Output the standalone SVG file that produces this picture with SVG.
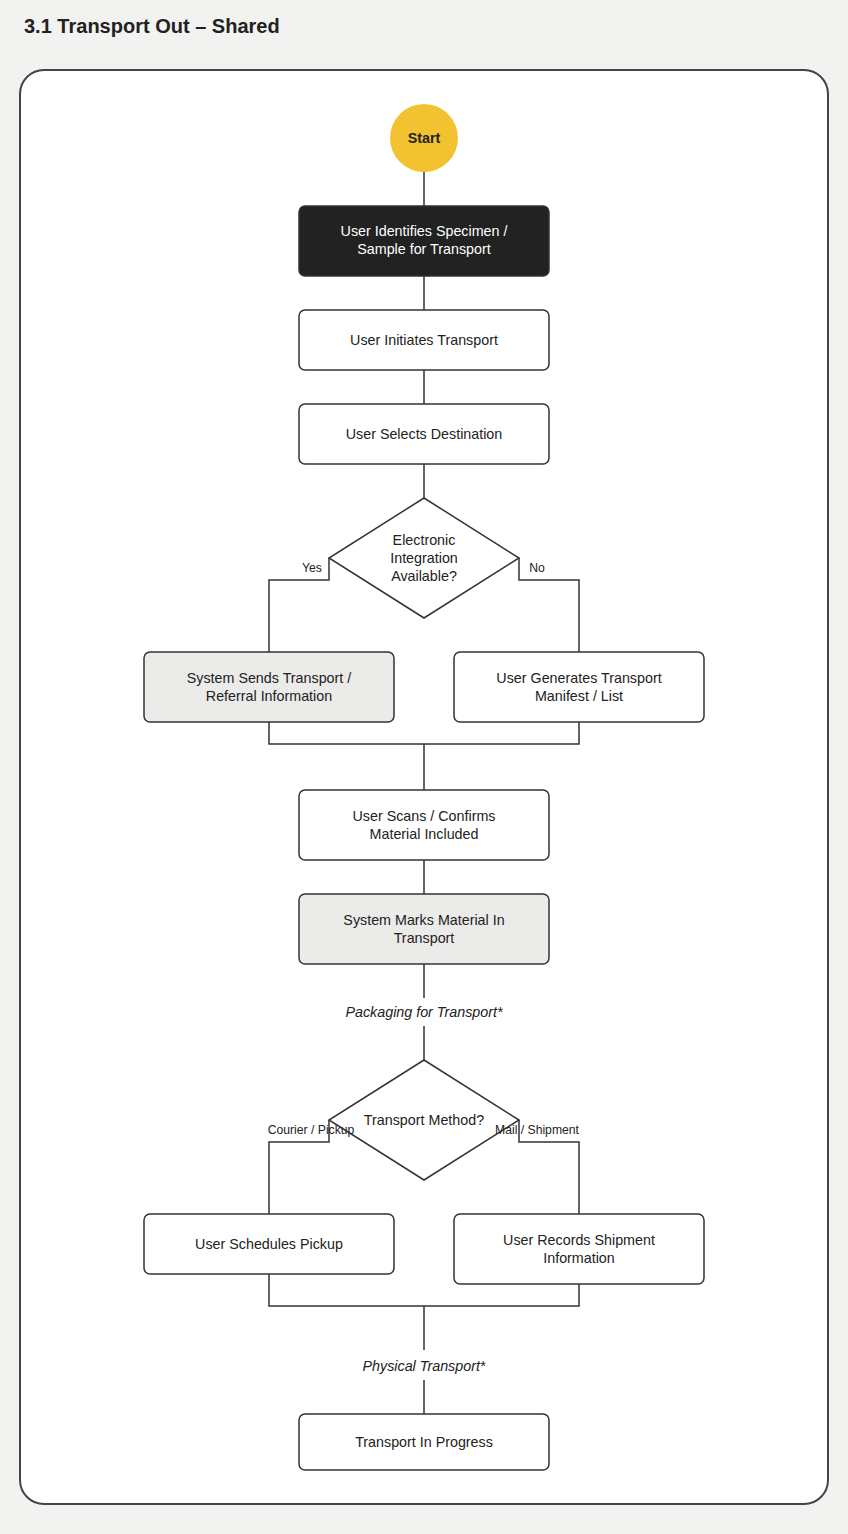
<svg xmlns="http://www.w3.org/2000/svg" width="848" height="1534" viewBox="0 0 848 1534">
<style>
text{font-family:"Liberation Sans",Arial,sans-serif;fill:#222}
.t{font-size:14.3px;text-anchor:middle;dominant-baseline:central}
.w{fill:#fff}
.lb{font-size:12.2px;text-anchor:middle;dominant-baseline:central}
.it{font-size:14.3px;font-style:italic;text-anchor:middle;dominant-baseline:central}
.box{fill:#fff;stroke:#333;stroke-width:1.5}
.grey{fill:#ebebea}
.dark{fill:#222}
.c{fill:none;stroke:#333;stroke-width:1.5}
</style>
<rect width="848" height="1534" fill="#f2f2f0"/>
<text x="24" y="26" style="font-size:20px;font-weight:bold;dominant-baseline:central">3.1 Transport Out – Shared</text>
<rect x="20" y="70" width="808" height="1434" rx="24" fill="#fff" stroke="#444" stroke-width="2"/>
<g id="connectors">
<path class="c" d="M424 172V206M424 276V310M424 370V404M424 464V498"/>
<path class="c" d="M329 558V580H269V652M519 558V580H579V652"/>
<path class="c" d="M269 722V744H579V722M424 744V790M424 860V894M424 964V998M424 1026V1060"/>
<path class="c" d="M329 1120V1142H269V1214M519 1120V1142H579V1214"/>
<path class="c" d="M269 1274V1306H579V1284M424 1306V1350M424 1380V1414"/>
</g>
<g id="start"><circle cx="424" cy="138" r="34" fill="#f2c230"/><text class="t" x="424" y="138" style="font-weight:bold">Start</text></g>
<g id="n1"><rect class="box dark" x="299" y="206" width="250" height="70" rx="6"/><text class="t w" x="424" y="231">User Identifies Specimen /</text><text class="t w" x="424" y="249">Sample for Transport</text></g>
<g id="n2"><rect class="box" x="299" y="310" width="250" height="60" rx="6"/><text class="t" x="424" y="340">User Initiates Transport</text></g>
<g id="n3"><rect class="box" x="299" y="404" width="250" height="60" rx="6"/><text class="t" x="424" y="434">User Selects Destination</text></g>
<g id="d1"><polygon class="box" points="424,498 519,558 424,618 329,558"/><text class="t" x="424" y="540">Electronic</text><text class="t" x="424" y="558">Integration</text><text class="t" x="424" y="576">Available?</text></g>
<g id="l1"><text class="lb" x="312" y="568">Yes</text><text class="lb" x="537" y="568">No</text></g>
<g id="n4"><rect class="box grey" x="144" y="652" width="250" height="70" rx="6"/><text class="t" x="269" y="678">System Sends Transport /</text><text class="t" x="269" y="696">Referral Information</text></g>
<g id="n5"><rect class="box" x="454" y="652" width="250" height="70" rx="6"/><text class="t" x="579" y="678">User Generates Transport</text><text class="t" x="579" y="696">Manifest / List</text></g>
<g id="n6"><rect class="box" x="299" y="790" width="250" height="70" rx="6"/><text class="t" x="424" y="816">User Scans / Confirms</text><text class="t" x="424" y="834">Material Included</text></g>
<g id="n7"><rect class="box grey" x="299" y="894" width="250" height="70" rx="6"/><text class="t" x="424" y="920">System Marks Material In</text><text class="t" x="424" y="938">Transport</text></g>
<g id="p1"><text class="it" x="424" y="1012">Packaging for Transport*</text></g>
<g id="d2"><polygon class="box" points="424,1060 519,1120 424,1180 329,1120"/><text class="t" x="424" y="1120">Transport Method?</text></g>
<g id="l2"><text class="lb" x="311" y="1130">Courier / Pickup</text><text class="lb" x="537" y="1130">Mail / Shipment</text></g>
<g id="n8"><rect class="box" x="144" y="1214" width="250" height="60" rx="6"/><text class="t" x="269" y="1244">User Schedules Pickup</text></g>
<g id="n9"><rect class="box" x="454" y="1214" width="250" height="70" rx="6"/><text class="t" x="579" y="1240">User Records Shipment</text><text class="t" x="579" y="1258">Information</text></g>
<g id="p2"><text class="it" x="424" y="1366">Physical Transport*</text></g>
<g id="n10"><rect class="box" x="299" y="1414" width="250" height="56" rx="6"/><text class="t" x="424" y="1442">Transport In Progress</text></g>
</svg>
